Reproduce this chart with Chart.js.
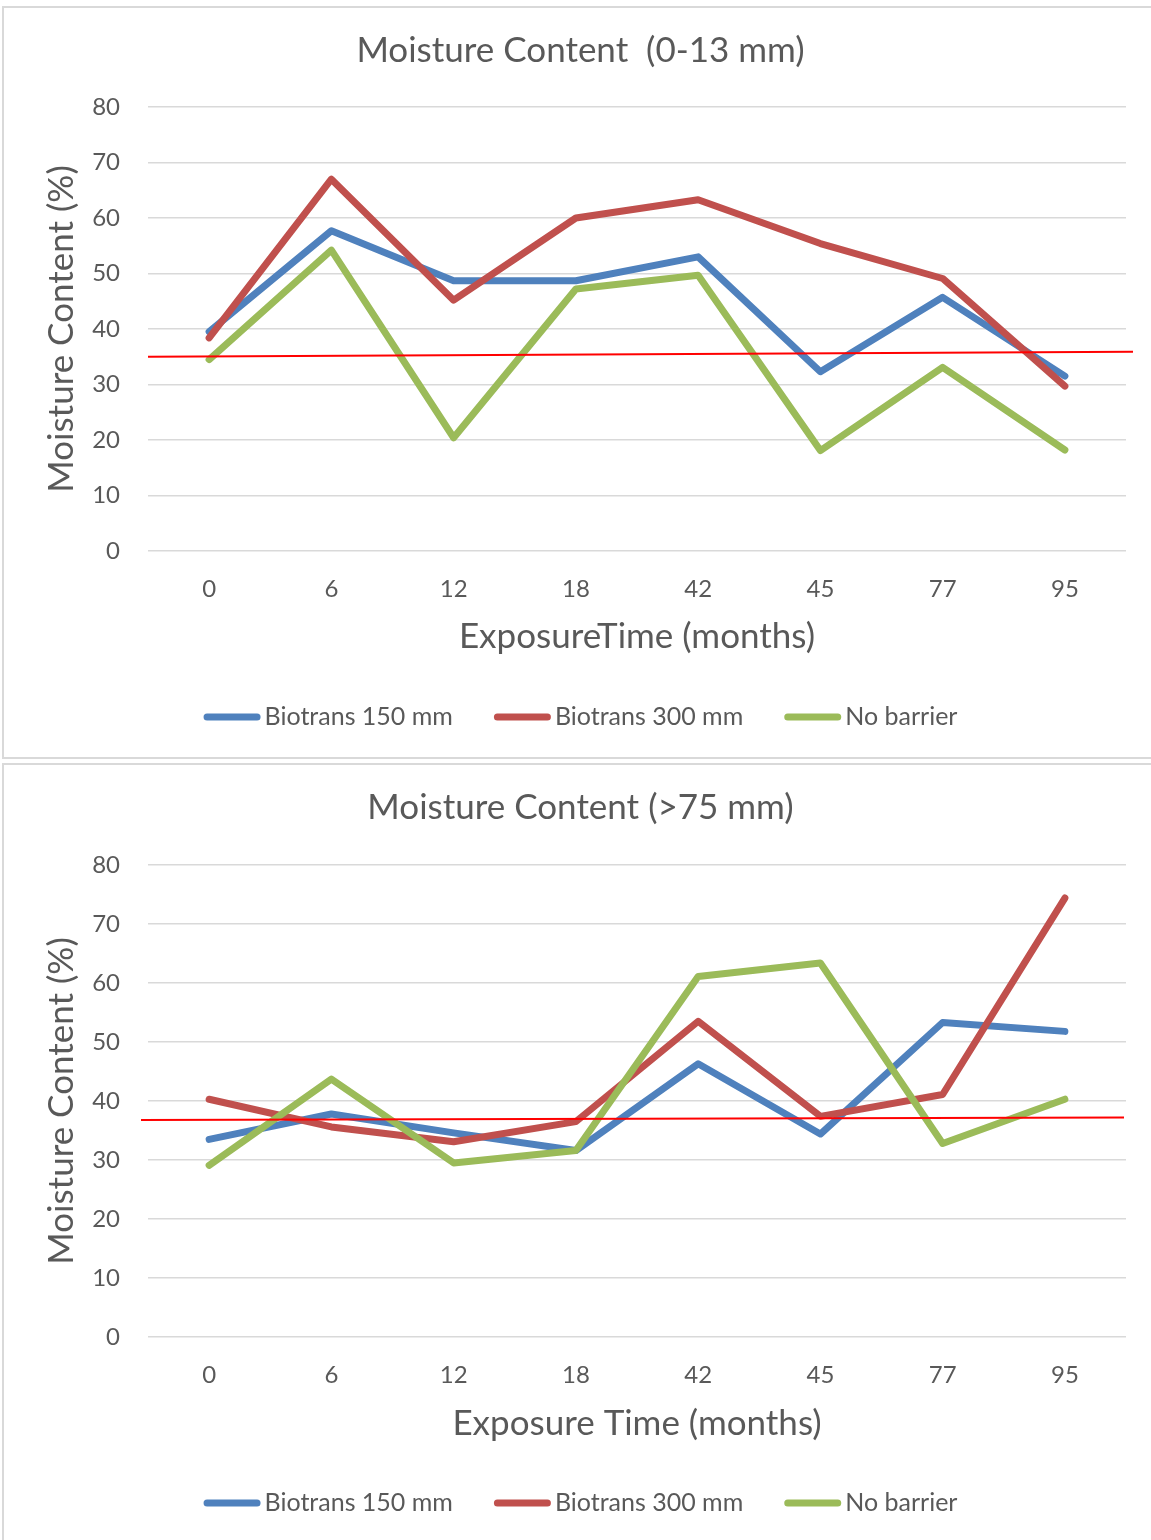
<!DOCTYPE html>
<html>
<head>
<meta charset="utf-8">
<title>Moisture Content</title>
<script src="https://cdn.jsdelivr.net/npm/chart.js@4.4.1/dist/chart.umd.min.js"></script>
<style>
  html, body { margin: 0; padding: 0; background: #fff; overflow: hidden; width: 1151px; height: 1540px; }
  .panel { position: absolute; left: 2px; width: 1153px; border: 2px solid #d9d9d9; background: #fff; }
  #p1 { top: 6px; height: 749px; }
  #p2 { top: 763px; height: 780px; }
  canvas { display: block; }
</style>
</head>
<body>
<div class="panel" id="p1"><canvas id="c1"></canvas></div>
<div class="panel" id="p2"><canvas id="c2"></canvas></div>
<script>
// Exposure times (months) on the category axis
const exposureMonths = ['0', '6', '12', '18', '42', '45', '77', '95'];
const seriesNames = ['Biotrans 150 mm', 'Biotrans 300 mm', 'No barrier'];
const seriesColors = ['#4F81BD', '#C0504D', '#9BBB59'];

// Moisture content (%) at 0-13 mm depth
const shallowBiotrans150 = [39.5, 57.7, 48.7, 48.7, 53.0, 32.3, 45.7, 31.5];
const shallowBiotrans300 = [38.4, 67.0, 45.2, 60.0, 63.3, 55.4, 49.1, 29.7];
const shallowNoBarrier   = [34.5, 54.2, 20.4, 47.2, 49.7, 18.1, 33.1, 18.2];

// Moisture content (%) deeper than 75 mm
const deepBiotrans150 = [33.5, 37.8, 34.6, 31.6, 46.3, 34.4, 53.3, 51.8];
const deepBiotrans300 = [40.3, 35.6, 33.1, 36.5, 53.5, 37.4, 41.1, 74.4];
const deepNoBarrier   = [29.1, 43.7, 29.5, 31.6, 61.1, 63.4, 32.8, 40.3];

// Red guide line: value at its left end and at its right end
const shallowGuide = [35.0, 35.9];
const deepGuide = [36.8, 37.2];

// Value axis range
const yMin = 0, yMax = 80, yStep = 10;

const FONT = 'Lato, "Noto Sans", sans-serif';
const TEXT = '#595959';

// Sloped red guide line, placed through the y scale
const guideLinePlugin = {
  id: 'guideLine',
  afterDatasetsDraw(chart, args, opts) {
    const { ctx, chartArea, scales } = chart;
    const y = scales.y;
    ctx.save();
    ctx.strokeStyle = '#FF0000';
    ctx.lineWidth = 2;
    ctx.beginPath();
    ctx.moveTo(chartArea.left + opts.leftExtend, y.getPixelForValue(opts.values[0]));
    ctx.lineTo(chartArea.right + opts.rightExtend, y.getPixelForValue(opts.values[1]));
    ctx.stroke();
    ctx.restore();
  }
};

// Legend row with line samples, built from the datasets
const lineLegendPlugin = {
  id: 'lineLegend',
  afterDraw(chart, args, opts) {
    const ctx = chart.ctx;
    ctx.save();
    ctx.font = '25px ' + FONT;
    const items = chart.data.datasets.map(ds => ({
      text: ds.label, color: ds.borderColor, w: ctx.measureText(ds.label).width
    }));
    const sample = 57, gap = 4, spacing = 41;
    const total = items.reduce((s, it) => s + sample + gap + it.w, 0) + spacing * (items.length - 1);
    let x = chart.width / 2 - total / 2;
    const y = chart.height - opts.bottomOffset;
    items.forEach(it => {
      ctx.strokeStyle = it.color;
      ctx.lineWidth = 7;
      ctx.lineCap = 'round';
      ctx.beginPath();
      ctx.moveTo(x + 3.5, y);
      ctx.lineTo(x + sample - 3.5, y);
      ctx.stroke();
      ctx.fillStyle = TEXT;
      ctx.textBaseline = 'middle';
      ctx.textAlign = 'left';
      ctx.fillText(it.text, x + sample + gap, y);
      x += sample + gap + it.w + spacing;
    });
    ctx.restore();
  }
};

function makeChart(canvasId, cfg) {
  const datasets = cfg.values.map((vals, i) => ({
    label: seriesNames[i],
    data: vals,
    borderColor: seriesColors[i],
    backgroundColor: seriesColors[i],
    borderWidth: 7,
    borderCapStyle: 'round',
    borderJoinStyle: 'round',
    pointRadius: 0,
    pointHoverRadius: 0,
    tension: 0,
    fill: false,
    order: 3 - i
  }));
  const titleFont = 35, titleLH = titleFont * 1.2;
  const titlePadTop = cfg.titleY - titleLH / 2;
  const titlePadBottom = cfg.plotTop - titlePadTop - titleLH;
  const axisTitleFont = 35, axisLH = axisTitleFont * 1.2;

  return new Chart(document.getElementById(canvasId), {
    type: 'line',
    data: { labels: exposureMonths, datasets },
    options: {
      responsive: true,
      maintainAspectRatio: false,
      animation: false,
      events: [],
      layout: { padding: 0 },
      plugins: {
        legend: { display: false },
        tooltip: { enabled: false },
        title: {
          display: true,
          text: cfg.title,
          color: TEXT,
          font: { family: FONT, size: titleFont, weight: 'normal', lineHeight: 1.2 },
          padding: { top: titlePadTop, bottom: titlePadBottom }
        },
        guideLine: { values: cfg.guide, leftExtend: cfg.guideLeft, rightExtend: cfg.guideRight },
        lineLegend: { bottomOffset: cfg.legendOffset }
      },
      scales: {
        x: {
          offset: true,
          grid: { display: false, drawTicks: false },
          border: { display: false },
          ticks: {
            color: TEXT, padding: 23.6,
            font: { family: FONT, size: 24, lineHeight: 1.2 },
            maxRotation: 0, autoSkip: false
          },
          title: {
            display: true, text: cfg.xTitle, color: TEXT,
            font: { family: FONT, size: axisTitleFont, lineHeight: 1.2 },
            padding: { top: 0, bottom: cfg.xTitleFromBottom - axisLH / 2 }
          },
          afterFit(scale) { scale.height = cfg.xAxisHeight; }
        },
        y: {
          min: yMin, max: yMax,
          grid: { color: '#d9d9d9', lineWidth: 1.5, drawTicks: false },
          border: { display: false },
          ticks: {
            stepSize: yStep, color: TEXT, padding: 28,
            font: { family: FONT, size: 24, lineHeight: 1.2 }
          },
          title: {
            display: true, text: 'Moisture Content (%)', color: TEXT,
            font: { family: FONT, size: axisTitleFont, lineHeight: 1.2 },
            padding: { top: 58 - axisLH / 2, bottom: 0 }
          },
          afterFit(scale) { scale.width = 144; }
        },
        // empty margin on the right of the plot
        yRight: {
          position: 'right',
          min: yMin, max: yMax,
          display: true,
          grid: { display: false, drawTicks: false },
          border: { display: false },
          ticks: { display: false },
          afterFit(scale) { scale.width = cfg.rightPad; }
        }
      }
    },
    plugins: [guideLinePlugin, lineLegendPlugin]
  });
}

makeChart('c1', {
  title: 'Moisture Content  (0-13 mm)',
  xTitle: 'ExposureTime (months)',
  values: [shallowBiotrans150, shallowBiotrans300, shallowNoBarrier],
  guide: shallowGuide, guideLeft: 0, guideRight: 7,
  titleY: 43, plotTop: 99, xAxisHeight: 749 - 543,
  xTitleFromBottom: 120, legendOffset: 40, rightPad: 31
});

makeChart('c2', {
  title: 'Moisture Content (>75 mm)',
  xTitle: 'Exposure Time (months)',
  values: [deepBiotrans150, deepBiotrans300, deepNoBarrier],
  guide: deepGuide, guideLeft: -7, guideRight: -2,
  titleY: 43, plotTop: 100, xAxisHeight: 780 - 572,
  xTitleFromBottom: 121, legendOffset: 42, rightPad: 31
});
</script>
</body>
</html>
